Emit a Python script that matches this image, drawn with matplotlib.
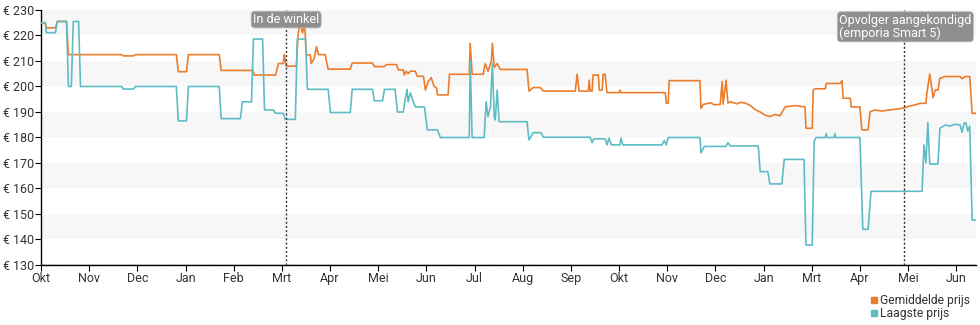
import matplotlib.pyplot as plt
from matplotlib.lines import Line2D

# x = months since the first "Okt" tick (fractional), y = price in euro
month_labels = ["Okt", "Nov", "Dec", "Jan", "Feb", "Mrt", "Apr", "Mei", "Jun", "Jul",
                "Aug", "Sep", "Okt", "Nov", "Dec", "Jan", "Mrt", "Apr", "Mei", "Jun"]

avg_x = [0.01, 0.09, 0.11, 0.30, 0.34, 0.53, 0.57, 1.67, 1.71, 1.92, 1.96, 2.81, 2.85, 3.02,
         3.06, 3.70, 3.74, 4.37, 4.39, 4.43, 4.87, 4.93, 5.03, 5.05, 5.09, 5.30, 5.34, 5.38,
         5.43, 5.47, 5.51, 5.59, 5.61, 5.67, 5.72, 5.76, 5.90, 5.96, 6.42, 6.46, 6.88, 6.92,
         7.13, 7.17, 7.38, 7.42, 7.52, 7.54, 7.58, 7.62, 7.67, 7.77, 7.81, 7.94, 7.98, 8.04,
         8.10, 8.16, 8.21, 8.23, 8.45, 8.48, 8.89, 8.91, 8.95, 9.18, 9.22, 9.28, 9.35, 9.37,
         9.41, 9.47, 9.53, 10.09, 10.13, 10.22, 10.36, 10.43, 11.09, 11.13, 11.17, 11.36,
         11.38, 11.40, 11.44, 11.46, 11.57, 11.59, 11.65, 11.67, 11.71, 11.75, 12.00, 12.02,
         12.04, 12.96, 12.98, 13.02, 13.04, 13.68, 13.70, 13.75, 13.90, 13.98, 14.10, 14.14,
         14.16, 14.22, 14.26, 14.31, 14.45, 14.52, 14.62, 14.72, 14.82, 14.93, 15.03, 15.13,
         15.24, 15.34, 15.45, 15.65, 15.86, 15.88, 16.01, 16.03, 16.07, 16.28, 16.30, 16.59,
         16.63, 16.65, 16.80, 16.82, 17.00, 17.04, 17.17, 17.21, 17.31, 17.45, 17.62, 17.83,
         17.95, 18.04, 18.15, 18.25, 18.37, 18.39, 18.45, 18.52, 18.56, 18.62, 18.66, 18.77,
         19.08, 19.12, 19.18, 19.28, 19.33, 19.41]
avg_y = [225, 225, 223, 223, 225.5, 225.5, 212.5, 212.5, 212, 212, 212.5, 212.5, 205.8, 205.8,
         212.5, 212.5, 206.3, 206.3, 206.5, 204.5, 204.5, 209, 209, 212.6, 208, 208, 221, 225,
         221, 225, 212.4, 212.4, 209, 211, 215.6, 212.5, 212.5, 206.8, 206.8, 209.2, 209.2, 207.8,
         207.8, 208.6, 208.6, 206.5, 206.5, 204.5, 206, 205, 206, 206, 204, 204, 198.6, 202,
         203.5, 200, 199.5, 196.7, 196.7, 204.8, 204.8, 216.9, 204.8, 204.8, 209, 206, 210, 216.9,
         207.5, 209, 206.7, 206.7, 198.2, 199.6, 199.6, 198.2, 198.2, 204.8, 198.2, 198.2,
         202.5, 198.2, 198.2, 204.5, 204.5, 198.6, 198.6, 204.8, 204.8, 197.6, 197.6, 198.6,
         197.6, 197.6, 193.4, 193.4, 202.3, 202.3, 191.4, 193, 193.6, 192.8, 193, 202,
         193, 202.5, 193.5, 194, 193.2, 193.8, 193.5, 192.6, 191, 190, 188.8, 188.2,
         189, 188.5, 192, 192.5, 192, 183.6, 183.6, 198.6, 199.1, 199.1, 201.2, 201.2,
         202.3, 195.4, 195.4, 192, 192, 183, 183, 190.1, 190.8, 190.4, 190.8, 191.3,
         191.8, 192.4, 192.8, 193.4, 193.4, 197.3, 204.9, 195.6, 198.6, 198.6, 203.2, 203.9,
         203.9, 203, 203.9, 203.9, 189.5, 189.5]

low_x = [0.01, 0.09, 0.11, 0.30, 0.34, 0.53, 0.57, 0.63, 0.67, 0.78, 0.82, 1.67, 1.71, 1.92,
         1.96, 2.81, 2.85, 3.02, 3.06, 3.70, 3.74, 4.14, 4.18, 4.37, 4.41, 4.60, 4.64, 4.82,
         4.87, 5.03, 5.07, 5.28, 5.32, 5.49, 5.53, 5.96, 6.01, 6.42, 6.46, 6.88, 6.92, 7.09,
         7.13, 7.35, 7.40, 7.52, 7.56, 7.60, 7.62, 7.67, 7.71, 7.77, 7.96, 8.02, 8.23, 8.29,
         8.89, 8.91, 8.95, 9.20, 9.24, 9.28, 9.33, 9.37, 9.41, 9.43, 9.47, 9.51, 10.09, 10.13,
         10.22, 10.38, 10.43, 11.40, 11.44, 11.48, 11.71, 11.75, 11.79, 11.84, 12.02, 12.04,
         12.08, 12.89, 12.94, 12.98, 13.02, 13.68, 13.70, 13.77, 14.22, 14.26, 14.31, 14.89,
         14.93, 15.09, 15.13, 15.38, 15.43, 15.84, 15.88, 16.01, 16.05, 16.09, 16.28, 16.30,
         16.32, 16.46, 16.48, 16.50, 17.00, 17.06, 17.17, 17.23, 18.29, 18.33, 18.37, 18.41,
         18.45, 18.62, 18.66, 18.77, 18.87, 18.97, 19.08, 19.12, 19.16, 19.20, 19.24, 19.28,
         19.33, 19.41]
low_y = [225, 225, 221.1, 221.1, 225.5, 225.5, 200, 200, 225.5, 225.5, 200, 200, 199, 199,
         200, 200, 186.5, 186.5, 200, 200, 187.4, 187.4, 194, 194, 218.6, 218.6, 190.8, 190.8,
         189.5, 189.5, 187.1, 187.1, 218.6, 218.6, 198.9, 198.9, 189.8, 189.8, 198.9, 198.9, 194.4, 194.4,
         198.9, 198.9, 190, 190, 195, 198.9, 194, 197.5, 195, 192, 192, 183, 183, 180,
         180, 210, 180, 180, 194, 188.2, 192, 209, 188, 186.9, 198.6, 186.2, 186.2, 179,
         181.9, 181.9, 180.1, 180.1, 178, 179.5, 179.5, 177.1, 179.8, 177.1, 177.1, 179.8,
         177.1, 177.1, 178.8, 177.1, 180, 180, 174, 176.5, 176.5, 178, 176.7, 176.7,
         166.6, 166.6, 161.8, 161.8, 171.4, 171.4, 137.8, 137.8, 178.4, 180, 180, 181.5,
         180, 180, 181.5, 180, 180, 144, 144, 158.9, 158.9, 177.1, 170, 185.8,
         169.6, 169.6, 183.6, 184.9, 184.5, 185.2, 184.9, 182, 185.5, 185.8, 182.5, 184.5,
         147.6, 147.6]

events_x = [5.09, 17.92]
events_text = ["In de winkel", "Opvolger aangekondigd\n(emporia Smart 5)"]

AVG_COLOR = "#ec7d2d"
LOW_COLOR = "#5ebcc4"

plt.rcParams["font.family"] = ["Roboto", "DejaVu Sans"]

fig = plt.figure(figsize=(9.8, 3.25), dpi=100)
ax = fig.add_axes([41 / 980, 1 - 265 / 325, 935 / 980, 255 / 325])

# alternating horizontal bands
for lo in range(140, 230, 20):
    ax.axhspan(lo, lo + 10, color="#f7f7f7", zorder=0, lw=0)
ax.axhline(130.4, color="#cccccc", lw=0.8, ls=(0, (1, 1)), zorder=1)

ax.plot(avg_x, avg_y, color=AVG_COLOR, lw=1.2, zorder=3)
ax.plot(low_x, low_y, color=LOW_COLOR, lw=1.2, zorder=4)

for ex in events_x:
    ax.axvline(ex, color="#333333", lw=1.0, ls=(0, (1.5, 1.5)), zorder=5)

box = dict(boxstyle="round,pad=0.15,rounding_size=0.3", fc="#8a8a8a", ec="#bdbdbd", lw=0.6, alpha=0.95)
ax.text(events_x[0], 228.8, events_text[0], ha="center", va="top", color="white",
        fontsize=9, bbox=box, zorder=6)
ax.text(16.57, 228.6, events_text[1], ha="left", va="top", color="white",
        fontsize=9, linespacing=1.0, bbox=box, zorder=6)

ax.set_xlim(0, 19.41)
ax.set_ylim(130, 230)
ax.set_xticks(range(len(month_labels)))
ax.set_xticklabels(month_labels)
ax.set_yticks(range(130, 231, 10))
ax.set_yticklabels([f"€ {v}" for v in range(130, 231, 10)])

for s in ["top", "right"]:
    ax.spines[s].set_visible(False)
for s in ["left", "bottom"]:
    ax.spines[s].set_color("black")
    ax.spines[s].set_linewidth(1.0)
ax.tick_params(axis="both", length=4, width=0.8, color="black", labelsize=9,
               labelcolor="#333333", pad=1)

handles = [Line2D([], [], ls="", marker="s", ms=5, color=AVG_COLOR),
           Line2D([], [], ls="", marker="s", ms=5, color=LOW_COLOR)]
fig.legend(handles, ["Gemiddelde prijs", "Laagste prijs"], loc="lower right",
           bbox_to_anchor=(1.0, -0.015), frameon=False, fontsize=8.7, handlelength=0.6,
           handletextpad=0.2, labelspacing=0.0, borderpad=0.3, labelcolor="#333333")

fig.savefig("out.png", dpi=100)
